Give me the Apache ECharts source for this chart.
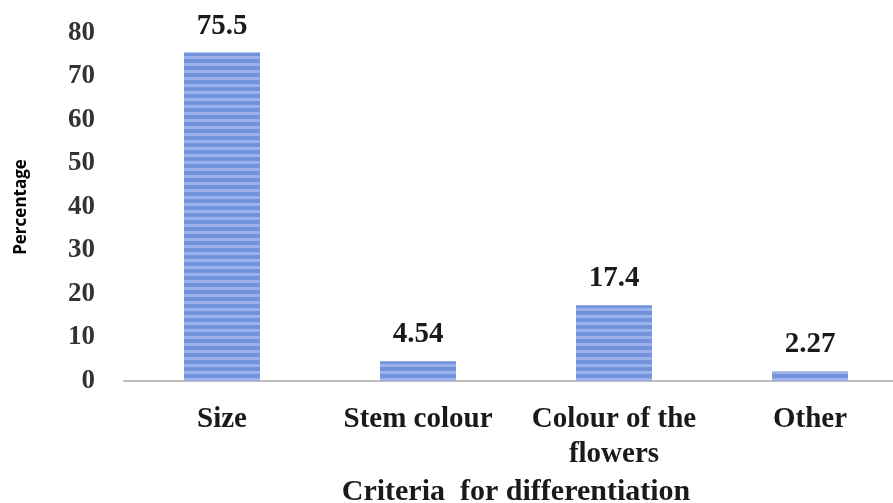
<!DOCTYPE html>
<html>
<head>
<meta charset="utf-8">
<script src="https://cdn.jsdelivr.net/npm/echarts@6/dist/echarts.min.js"></script>
<style>
  html, body { margin: 0; padding: 0; background: #ffffff; }
  #chart { width: 893px; height: 503px; }
</style>
</head>
<body>
<div id="chart"></div>
<script>
// Criteria used to tell the plants apart, in percent of responses
const categories = ['Size', 'Stem colour', 'Colour of the\nflowers', 'Other'];
const percentages = [75.5, 4.54, 17.4, 2.27];
const valueLabels = ['75.5', '4.54', '17.4', '2.27'];
const yTicks = [0, 10, 20, 30, 40, 50, 60, 70, 80];

// Horizontal stripe fill for the bars
function stripeCanvas() {
  const c = document.createElement('canvas');
  c.width = 8; c.height = 7;
  const g = c.getContext('2d');
  g.fillStyle = '#7292dc';
  g.fillRect(0, 0, 8, 7);
  g.fillStyle = '#9ab1ea';
  g.fillRect(0, 0, 8, 3);
  return c;
}

const serif = '"Liberation Serif", "Times New Roman", serif';
const chart = echarts.init(document.getElementById('chart'));
chart.setOption({
  animation: false,
  backgroundColor: '#ffffff',
  grid: {
    left: 124, top: 33, bottom: 122, width: 784,
    containLabel: false, outerBoundsMode: 'none'
  },
  xAxis: {
    type: 'category',
    data: categories,
    name: 'Criteria  for differentiation',
    nameLocation: 'middle',
    nameGap: 93,
    nameTextStyle: { fontFamily: serif, fontWeight: 'bold', fontSize: 30, color: '#1a1a1a' },
    axisLine: { lineStyle: { color: '#bdbdbd', width: 2 } },
    axisTick: { show: false },
    axisLabel: {
      fontFamily: serif, fontWeight: 'bold', fontSize: 29, color: '#1a1a1a',
      lineHeight: 35, margin: 21, interval: 0, verticalAlign: 'top'
    }
  },
  yAxis: {
    type: 'value',
    min: yTicks[0],
    max: yTicks[yTicks.length - 1],
    interval: yTicks[1] - yTicks[0],
    name: 'Percentage',
    nameLocation: 'middle',
    nameGap: 94,
    nameTextStyle: { fontFamily: '"Open Sans", "Liberation Sans", sans-serif', fontWeight: 'bold', fontSize: 17, color: '#000000' },
    axisLine: { show: false },
    axisTick: { show: false },
    splitLine: { show: false },
    axisLabel: { fontFamily: serif, fontWeight: 'bold', fontSize: 27, color: '#333333', margin: 29 }
  },
  series: [{
    type: 'bar',
    data: percentages,
    barWidth: 76,
    itemStyle: { color: { image: stripeCanvas(), repeat: 'repeat' } },
    label: {
      show: true,
      position: 'top',
      distance: 12,
      fontFamily: serif, fontWeight: 'bold', fontSize: 29, color: '#1a1a1a',
      formatter: p => valueLabels[p.dataIndex]
    }
  }]
});
</script>
</body>
</html>
